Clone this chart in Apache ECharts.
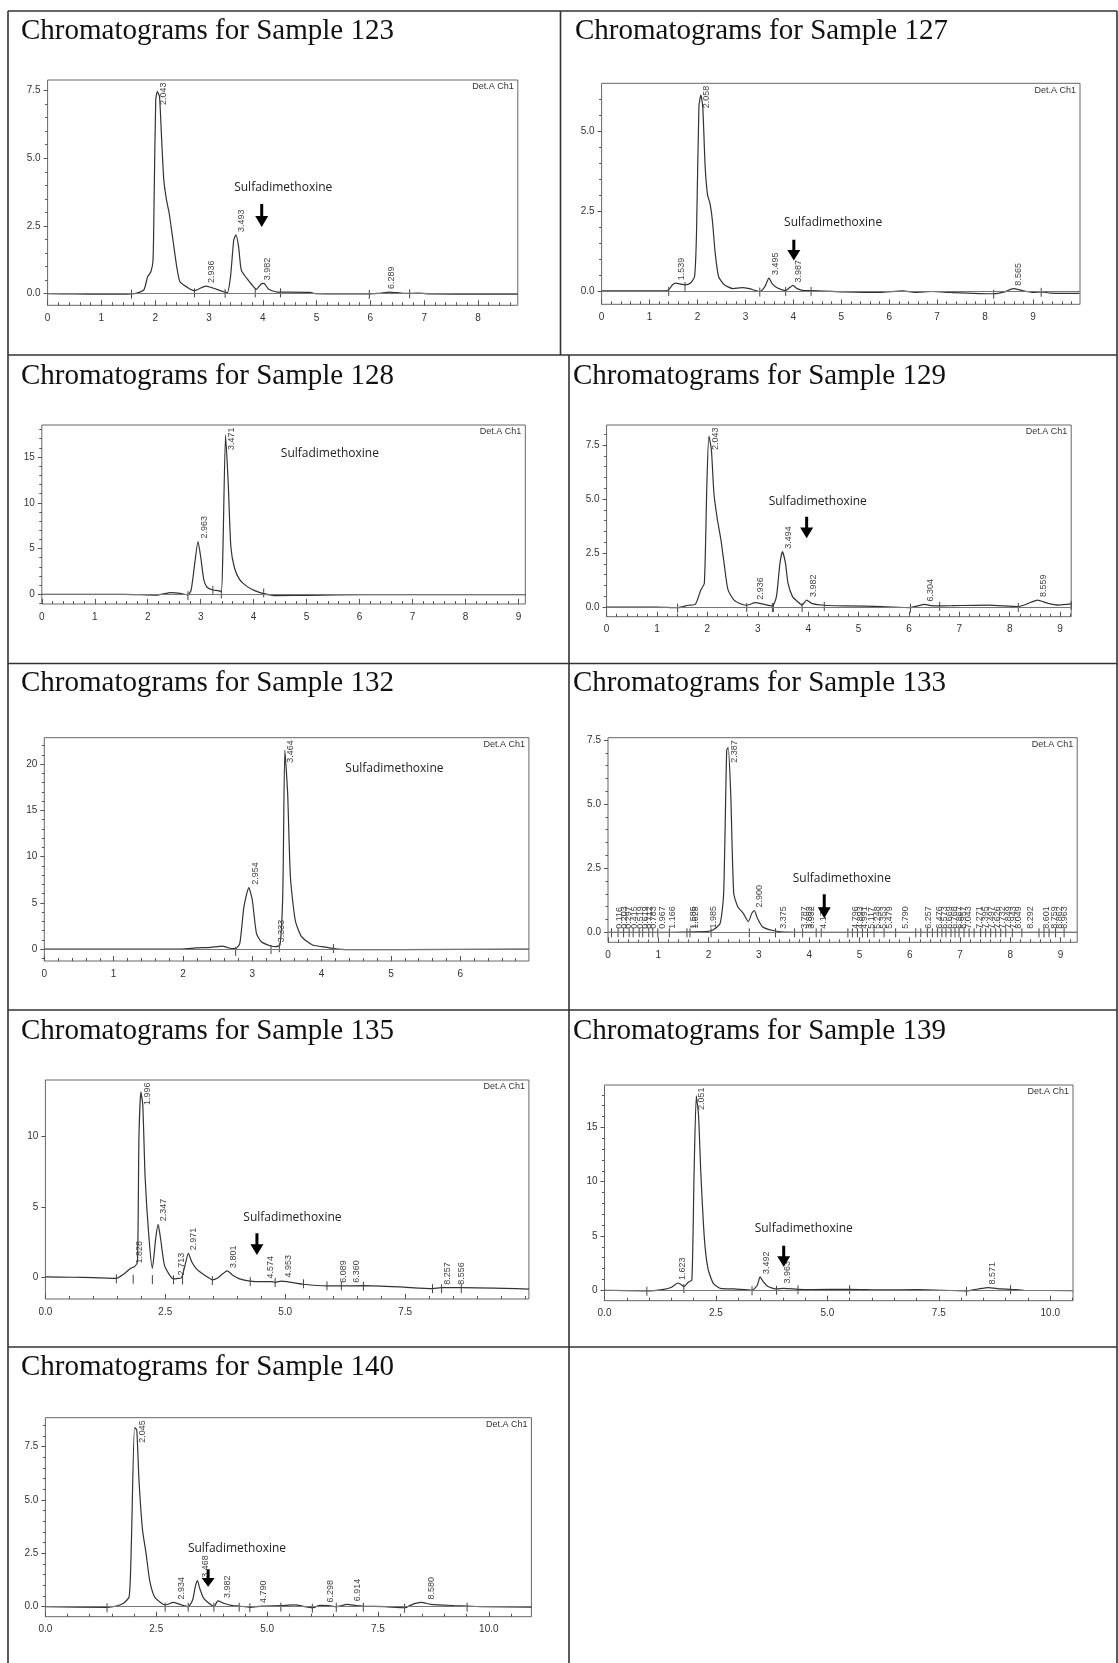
<!DOCTYPE html>
<html><head><meta charset="utf-8">
<script src="https://cdn.jsdelivr.net/npm/echarts@6/dist/echarts.min.js"></script>
<style>html,body{margin:0;padding:0;background:#fff}#c{width:1118px;height:1663px}</style>
</head><body><div id="c"></div>
<script>
// ---------- sample ids ----------
const samples = ['123','127','128','129','132','133','135','139','140'];

// ---------- chromatogram curves [time (min), signal] ----------
const c123 = [[0,0],[0.5,-0.01],[1.0,-0.02],[1.3,-0.02],[1.56,-0.01],[1.66,0.02],[1.79,0.14],[1.86,0.63],[1.92,0.81],[1.96,1.24],[1.98,3.5],[2.01,7.15],[2.04,7.46],[2.08,7.28],[2.12,5.68],[2.16,4.2],[2.21,3.46],[2.26,2.97],[2.33,1.98],[2.40,1.0],[2.46,0.44],[2.60,0.23],[2.73,0.11],[2.87,0.23],[2.95,0.28],[3.07,0.21],[3.27,0.07],[3.34,0.04],[3.40,0.63],[3.46,1.98],[3.50,2.17],[3.55,1.74],[3.60,0.87],[3.70,0.57],[3.80,0.32],[3.88,0.16],[3.97,0.36],[4.02,0.38],[4.11,0.16],[4.27,0.06],[4.47,0.06],[4.88,0.05],[4.98,0],[5.81,-0.01],[6.15,0.01],[6.35,0.06],[6.62,0.01],[6.89,0.02],[7.15,-0.01],[8.0,-0.02],[8.74,-0.02]];
const c127 = [[0,0],[1.0,0],[1.33,0],[1.40,0.03],[1.48,0.19],[1.55,0.24],[1.66,0.21],[1.74,0.19],[1.85,0.24],[1.94,0.45],[1.98,1.8],[2.03,5.76],[2.07,6.12],[2.11,5.76],[2.16,3.89],[2.21,3.0],[2.26,2.74],[2.31,2.22],[2.37,1.18],[2.44,0.45],[2.56,0.19],[2.74,0.07],[2.93,0.1],[3.08,0.07],[3.30,-0.02],[3.41,0.14],[3.49,0.40],[3.56,0.22],[3.67,0.09],[3.84,0.01],[3.93,0.11],[3.99,0.17],[4.08,0.07],[4.23,0.01],[4.37,0.01],[5.05,-0.03],[5.80,-0.05],[6.28,0.0],[6.54,-0.05],[6.91,-0.02],[7.29,-0.05],[8.18,-0.09],[8.41,-0.03],[8.59,0.07],[8.78,0.01],[9.00,-0.05],[9.17,-0.03],[9.37,-0.07],[9.97,-0.08]];
const c128 = [[0,0],[1.55,0],[2.16,-0.1],[2.44,0.18],[2.64,0.07],[2.76,-0.07],[2.82,0.47],[2.88,3.0],[2.95,5.77],[3.00,4.1],[3.06,1.57],[3.12,0.77],[3.23,0.47],[3.33,0.4],[3.39,0.29],[3.42,4.85],[3.47,17.4],[3.52,12.15],[3.57,5.2],[3.64,2.85],[3.74,1.57],[3.88,0.84],[4.02,0.4],[4.19,0.07],[4.43,-0.15],[5.05,-0.11],[6.08,-0.04],[9.13,-0.04]];
const c129 = [[0,0],[1.0,0],[1.41,-0.03],[1.62,0.08],[1.76,0.12],[1.87,0.79],[1.94,1.1],[1.99,5.7],[2.03,7.92],[2.08,7.27],[2.13,5.26],[2.20,4.03],[2.27,3.1],[2.34,1.87],[2.41,0.79],[2.53,0.32],[2.67,0.14],[2.78,0.08],[2.95,0.2],[3.13,0.12],[3.29,0.05],[3.37,0.48],[3.44,2.02],[3.49,2.56],[3.55,2.02],[3.60,1.1],[3.69,0.48],[3.79,0.25],[3.88,0.09],[3.97,0.32],[4.07,0.17],[4.32,0.08],[4.77,0.05],[5.47,0.02],[6.03,-0.03],[6.17,0.05],[6.31,0.12],[6.45,0.06],[6.61,0.05],[6.87,0.06],[7.57,0.09],[8.17,0.02],[8.34,0.14],[8.55,0.32],[8.76,0.17],[8.97,0.09],[9.22,0.14]];
const c132 = [[0,0],[1.98,0],[2.19,0.11],[2.40,0.18],[2.57,0.32],[2.66,0.11],[2.76,0.04],[2.82,0.61],[2.88,4.58],[2.95,6.64],[3.00,5.3],[3.06,1.7],[3.13,0.79],[3.27,0.32],[3.34,0.25],[3.40,0.43],[3.44,6.0],[3.47,21.5],[3.51,16.85],[3.55,7.8],[3.62,3.1],[3.71,1.33],[3.87,0.43],[4.08,0.18],[4.17,0.04],[4.39,-0.07],[5.13,-0.07],[6.99,0]];
const c133 = [[0,0],[1.0,0],[1.95,0.03],[2.09,0.09],[2.23,0.35],[2.30,1.52],[2.36,7.1],[2.39,7.2],[2.44,5.42],[2.50,1.52],[2.58,1.0],[2.69,0.74],[2.79,0.42],[2.86,0.74],[2.91,0.85],[2.97,0.55],[3.07,0.22],[3.28,0.07],[3.49,0.01],[4.5,0],[6.0,0],[9.33,0]];
const c135 = [[0,0],[0.57,-0.02],[1.0,-0.05],[1.48,-0.1],[1.63,0.19],[1.78,0.62],[1.86,0.74],[1.92,1.09],[1.95,9.88],[1.99,13.2],[2.03,12.26],[2.08,7.03],[2.16,2.76],[2.23,0.62],[2.30,2.76],[2.35,3.75],[2.40,2.76],[2.48,0.86],[2.58,0.19],[2.67,-0.14],[2.77,-0.1],[2.84,-0.05],[2.92,0.97],[2.98,1.69],[3.05,1.09],[3.14,0.62],[3.26,0.26],[3.37,0.02],[3.48,-0.21],[3.60,-0.05],[3.71,0.26],[3.79,0.43],[3.90,0.14],[4.05,-0.14],[4.27,-0.29],[4.51,-0.33],[4.70,-0.33],[4.79,-0.38],[4.92,-0.29],[5.04,-0.33],[5.38,-0.52],[5.87,-0.64],[6.17,-0.64],[6.63,-0.62],[7.39,-0.71],[8.07,-0.83],[8.26,-0.76],[8.67,-0.76],[10.08,-0.86]];
const c139 = [[0,0],[0.95,-0.06],[1.33,0.09],[1.49,0.25],[1.65,0.67],[1.73,0.49],[1.78,0.34],[1.88,0.74],[1.96,0.95],[2.01,10.9],[2.06,17.9],[2.11,16.1],[2.16,10.9],[2.24,4.8],[2.32,2.02],[2.44,0.64],[2.60,0.18],[2.91,0.12],[3.31,0],[3.43,0.49],[3.49,1.23],[3.56,0.8],[3.67,0.34],[3.86,0.12],[4.02,0.18],[4.34,0.09],[4.66,0.06],[5.50,0.09],[6.24,0.03],[7.03,0.06],[8.12,-0.06],[8.38,0.12],[8.61,0.25],[8.89,0.12],[9.11,0.09],[9.41,0],[10.51,-0.03]];
const c140 = [[0,0],[1.39,-0.03],[1.60,0.03],[1.76,0.16],[1.89,0.47],[1.94,3.1],[2.01,8.4],[2.06,8.28],[2.11,5.94],[2.19,3.6],[2.27,2.5],[2.35,1.25],[2.46,0.47],[2.62,0.16],[2.70,0.08],[2.89,0.2],[3.07,0.08],[3.22,0],[3.32,0.31],[3.38,0.94],[3.43,1.22],[3.48,0.86],[3.57,0.39],[3.69,0.16],[3.80,0],[3.89,0.27],[4.02,0.16],[4.22,0.05],[4.37,0.03],[4.61,-0.03],[4.88,0.03],[5.31,0.05],[5.61,0.08],[6.02,-0.05],[6.19,0.06],[6.39,0.05],[6.56,0],[6.80,0.11],[7.01,0.05],[7.17,0.03],[7.66,0],[8.10,-0.05],[8.28,0.11],[8.47,0.2],[8.69,0.11],[9.22,0.05],[9.51,0.03],[9.88,0],[10.96,-0.02]];

// ---------- labelled peaks [retention time, apex height] ----------
const p123 = [[2.043,7.46],[2.936,0.28],[3.493,2.17],[3.982,0.38],[6.289,0.06]];
const p127 = [[1.539,0.24],[2.058,6.12],[3.495,0.40],[3.987,0.17],[8.565,0.07]];
const p128 = [[2.963,5.77],[3.471,17.4]];
const p129 = [[2.043,7.92],[2.936,0.2],[3.494,2.56],[3.982,0.32],[6.304,0.12],[8.559,0.32]];
const p132 = [[2.954,6.64],[3.333,0.4],[3.464,21.5]];
const p133 = [[0.116,0.02],[0.203,0.02],[0.297,0.02],[0.415,0.02],[0.519,0.02],[0.619,0.02],[0.712,0.02],[0.783,0.02],[0.967,0.02],[1.166,0.02],[1.585,0.02],[1.628,0.02],[1.985,0.03],[2.387,7.2],[2.900,0.85],[3.375,0.02],[3.787,0.02],[3.882,0.02],[3.932,0.02],[4.176,0.02],[4.796,0.02],[4.893,0.02],[4.991,0.02],[5.117,0.02],[5.248,0.02],[5.353,0.02],[5.479,0.02],[5.790,0.02],[6.257,0.02],[6.476,0.02],[6.573,0.02],[6.669,0.02],[6.768,0.02],[6.867,0.02],[6.957,0.02],[7.043,0.02],[7.271,0.02],[7.395,0.02],[7.497,0.02],[7.626,0.02],[7.732,0.02],[7.849,0.02],[7.943,0.02],[8.049,0.02],[8.292,0.02],[8.601,0.02],[8.759,0.02],[8.862,0.02],[8.963,0.02]];
const p135 = [[1.828,0.75],[1.996,13.2],[2.347,3.75],[2.713,-0.1],[2.971,1.69],[3.801,0.43],[4.574,-0.33],[4.953,-0.25],[6.089,-0.62],[6.360,-0.62],[8.257,-0.77],[8.556,-0.77]];
const p139 = [[1.623,0.67],[2.051,17.9],[3.492,1.23],[3.963,0.35],[8.571,0.25]];
const p140 = [[2.045,8.4],[2.934,0.2],[3.468,1.22],[3.982,0.27],[4.790,0.03],[6.298,0.06],[6.914,0.11],[8.580,0.2]];

// ---------- integration event marks [time, signal] ----------
const m123 = [[1.56,0],[2.73,0.05],[3.30,0.03],[3.86,0.05],[4.33,0.05],[5.98,-0.01],[6.73,0.01]];
const m127 = [[1.40,0],[1.74,0.15],[3.30,-0.02],[3.84,0],[4.37,0],[8.18,-0.09],[9.17,-0.03]];
const m128 = [[2.76,-0.1],[3.23,0.5],[3.39,0.1],[4.19,0.2]];
const m129 = [[1.41,-0.03],[2.78,0],[3.29,0],[3.31,0],[3.88,0],[4.32,0.05],[6.03,-0.03],[6.61,0.05],[8.17,0],[9.22,0.1]];
const m132 = [[2.76,-0.2],[3.27,0],[3.39,0.2],[4.17,0.1]];
const m133 = [[0.07,0],[0.20,0],[0.31,0],[0.42,0],[0.50,0],[0.62,0],[0.69,0],[0.81,0],[0.89,0],[0.99,0],[1.22,0],[1.57,0],[1.63,0],[2.05,0],[2.81,0],[3.33,0],[3.71,0],[3.87,0],[4.14,0],[4.24,0],[4.77,0],[4.86,0],[4.96,0],[5.06,0],[5.16,0],[5.29,0],[5.49,0],[5.72,0],[6.12,0],[6.22,0],[6.35,0],[6.45,0],[6.55,0],[6.64,0],[6.72,0],[6.82,0],[6.90,0],[6.98,0],[7.08,0],[7.18,0],[7.28,0],[7.41,0],[7.51,0],[7.61,0],[7.71,0],[7.81,0],[7.91,0],[8.04,0],[8.23,0],[8.57,0],[8.67,0],[8.77,0],[8.90,0],[9.07,0]];
const m135 = [[1.48,-0.1],[1.83,-0.12],[2.23,-0.15],[2.67,-0.17],[2.86,-0.18],[3.48,-0.22],[4.27,-0.3],[4.79,-0.36],[5.38,-0.45],[5.87,-0.6],[6.17,-0.6],[6.63,-0.62],[8.07,-0.8],[8.26,-0.8],[8.67,-0.8]];
const m139 = [[0.95,-0.05],[1.78,0.2],[3.31,0],[3.86,0.05],[4.34,0.1],[5.50,0.1],[8.12,-0.05],[9.11,0.1]];
const m140 = [[1.39,-0.03],[2.70,0],[3.22,0],[3.80,0],[4.37,0],[4.61,-0.03],[5.31,0],[6.02,-0.05],[6.56,0],[7.17,0],[8.10,-0.05],[9.51,0]];

// ---------- tick label values ----------
const xT123 = [0,1,2,3,4,5,6,7,8],       yT123 = [0,2.5,5,7.5];
const xT127 = [0,1,2,3,4,5,6,7,8,9],     yT127 = [0,2.5,5];
const xT128 = [0,1,2,3,4,5,6,7,8,9],     yT128 = [0,5,10,15];
const xT129 = [0,1,2,3,4,5,6,7,8,9],     yT129 = [0,2.5,5,7.5];
const xT132 = [0,1,2,3,4,5,6],           yT132 = [0,5,10,15,20];
const xT133 = [0,1,2,3,4,5,6,7,8,9],     yT133 = [0,2.5,5,7.5];
const xT135 = [0,2.5,5,7.5],             yT135 = [0,5,10];
const xT139 = [0,2.5,5,7.5,10],          yT139 = [0,5,10,15];
const xT140 = [0,2.5,5,7.5,10],          yT140 = [0,2.5,5,7.5];

// ---------- layout (positions / styles only) ----------
const layout = [
 {curve:c123,peaks:p123,marks:m123,xt:xT123,yt:yT123, title:[21,17], grid:[47.6,80,470.2,225.3], xr:[0,8.74], yr:[-0.43,7.89], xMinor:0.2,yMinor:0.5,xDec:0,yDec:1,zero:true, note:[4.38,3.9], arrow:[3.98,3.31,2.46]},
 {curve:c127,peaks:p127,marks:m127,xt:xT127,yt:yT127, title:[575,17], grid:[601.6,83.3,478.4,221], xr:[0,9.98], yr:[-0.42,6.49], xMinor:0.2,yMinor:0.5,xDec:0,yDec:1,zero:true, note:[4.83,2.15], arrow:[4.01,1.6,0.95]},
 {curve:c128,peaks:p128,marks:m128,xt:xT128,yt:yT128, title:[21,361.5], grid:[41.8,425,483.5,179], xr:[0,9.13], yr:[-1.06,18.5], xMinor:0.2,yMinor:1,xDec:0,yDec:0,zero:true, note:[5.44,15.4], arrow:null},
 {curve:c129,peaks:p129,marks:m129,xt:xT129,yt:yT129, title:[573,361.5], grid:[606.6,425,464.6,191.7], xr:[0,9.22], yr:[-0.45,8.43], xMinor:0.2,yMinor:0.5,xDec:0,yDec:1,zero:true, note:[4.19,4.9], arrow:[3.97,4.18,3.18]},
 {curve:c132,peaks:p132,marks:m132,xt:xT132,yt:yT132, title:[21,668.5], grid:[44.3,737.7,484.6,223.3], xr:[0,6.99], yr:[-1.3,22.87], xMinor:0.2,yMinor:1,xDec:0,yDec:0,zero:true, note:[5.05,19.55], arrow:null},
 {curve:c133,peaks:p133,marks:m133,xt:xT133,yt:yT133, title:[573,669], grid:[608,737.7,469.2,204.6], xr:[0,9.33], yr:[-0.39,7.59], xMinor:0.2,yMinor:0.5,xDec:0,yDec:1,zero:true, note:[4.65,2.1], arrow:[4.3,1.48,0.55]},
 {curve:c135,peaks:p135,marks:m135,xt:xT135,yt:yT135, title:[21,1016.5], grid:[45.4,1080,483.5,219], xr:[0,10.08], yr:[-1.57,14.04], xMinor:0.5,yMinor:null,xDec:1,yDec:0,zero:false, note:[5.15,4.23], arrow:[4.41,3.11,1.57]},
 {curve:c139,peaks:p139,marks:m139,xt:xT139,yt:yT139, title:[573,1016.5], grid:[604.5,1085,468.5,215.7], xr:[0,10.51], yr:[-0.96,18.9], xMinor:0.5,yMinor:1,xDec:1,yDec:0,zero:true, note:[4.47,5.64], arrow:[4.02,4.1,2.17]},
 {curve:c140,peaks:p140,marks:m140,xt:xT140,yt:yT140, title:[21,1353], grid:[45.4,1417.7,486,199], xr:[0,10.96], yr:[-0.47,8.86], xMinor:0.5,yMinor:0.5,xDec:1,yDec:1,zero:true, note:[4.32,2.74], arrow:[3.67,1.75,0.94]}
];

const SANS = '"Liberation Sans", Arial, sans-serif';
const LINE = '#333';

function minorTicks(min, max, step){
  const out = [];
  if (!step) return out;
  for (let k = Math.ceil(min/step); k*step <= max + 1e-9; k++) out.push(Math.round(k*step*1000)/1000);
  return out;
}

const grids = [], xAxes = [], yAxes = [], series = [], graphics = [];

layout.forEach((L, i) => {
  const [gl, gt, gw, gh] = L.grid;
  grids.push({left: gl, top: gt, width: gw, height: gh, show: true, borderColor: '#666', borderWidth: 1, backgroundColor: 'transparent'});
  xAxes.push({type:'value', gridIndex:i, position:'bottom', min:L.xr[0], max:L.xr[1],
    axisLine:{show:false, onZero:false}, splitLine:{show:false},
    axisTick:{show:true, inside:true, length:5, customValues:L.xt, lineStyle:{color:'#555'}},
    axisLabel:{show:true, customValues:L.xt, margin:8, fontSize:10, fontFamily:SANS, color:'#333',
      formatter: v => Number(v).toFixed(L.xDec)}});
  xAxes.push({type:'value', gridIndex:i, position:'bottom', min:L.xr[0], max:L.xr[1],
    axisLine:{show:false, onZero:false}, splitLine:{show:false}, axisLabel:{show:false},
    axisTick:{show:true, inside:true, length:3, customValues:minorTicks(L.xr[0], L.xr[1], L.xMinor), lineStyle:{color:'#555'}}});
  yAxes.push({type:'value', gridIndex:i, position:'left', min:L.yr[0], max:L.yr[1],
    axisLine:{show:false, onZero:false}, splitLine:{show:false},
    axisTick:{show:true, inside:false, length:4, customValues:L.yt, lineStyle:{color:'#555'}},
    axisLabel:{show:true, customValues:L.yt, margin:7, fontSize:10, fontFamily:SANS, color:'#333',
      formatter: v => Number(v).toFixed(L.yDec)}});
  yAxes.push({type:'value', gridIndex:i, position:'left', min:L.yr[0], max:L.yr[1],
    axisLine:{show:false, onZero:false}, splitLine:{show:false}, axisLabel:{show:false},
    axisTick:{show: !!L.yMinor, inside:false, length:2.5, customValues:minorTicks(L.yr[0], L.yr[1], L.yMinor), lineStyle:{color:'#555'}}});

  const xi = 2*i, yi = 2*i;
  const s = {type:'line', xAxisIndex:xi, yAxisIndex:yi, data:L.curve, showSymbol:false, smooth:0.2,
    lineStyle:{color:LINE, width:1.2}, z:3};
  if (L.zero) s.markLine = {silent:true, symbol:['none','none'], label:{show:false},
    lineStyle:{color:'#777', width:1, type:'solid'}, data:[{yAxis:0}]};
  series.push(s);
  series.push({type:'custom', xAxisIndex:xi, yAxisIndex:yi, data:L.marks, z:4,
    renderItem(params, api){
      const p = api.coord([api.value(0), api.value(1)]);
      return {type:'line', shape:{x1:p[0], y1:p[1]-4, x2:p[0], y2:p[1]+5}, style:{stroke:'#444', lineWidth:1}};
    }});
  series.push({type:'custom', xAxisIndex:xi, yAxisIndex:yi, data:L.peaks, z:5, clip:false,
    renderItem(params, api){
      const rt = api.value(0);
      const p = api.coord([rt, api.value(1)]);
      const cs = params.coordSys;
      const len = 22;
      let ay = p[1] - 3;
      if (ay - len < cs.y + 3) ay = cs.y + 3 + len;
      return {type:'text', x:p[0]+6, y:ay, rotation:Math.PI/2,
        style:{text: rt.toFixed(3), font:'9px ' + SANS, fill:'#444', align:'left', verticalAlign:'middle'}};
    }});
  series.push({type:'custom', xAxisIndex:xi, yAxisIndex:yi, data:[L.note], z:6, clip:false,
    renderItem(params, api){
      const p = api.coord([api.value(0), api.value(1)]);
      return {type:'text', x:p[0], y:p[1],
        style:{text:'Sulfadimethoxine', font:'12px "Open Sans", "Noto Sans", sans-serif', fill:'#222', align:'center', verticalAlign:'middle'}};
    }});
  if (L.arrow) series.push({type:'custom', xAxisIndex:xi, yAxisIndex:yi, data:[L.arrow], z:6, clip:false,
    renderItem(params, api){
      const x = api.value(0);
      const t = api.coord([x, api.value(1)]), b = api.coord([x, api.value(2)]);
      const cx = t[0], ty = t[1], by = b[1], sw = 1.5, hw = 6.5, hh = Math.min(11, (by-ty)*0.5);
      return {type:'polygon', shape:{points:[[cx-sw,ty],[cx+sw,ty],[cx+sw,by-hh],[cx+hw,by-hh],[cx,by],[cx-hw,by-hh],[cx-sw,by-hh]]},
        style:{fill:'#000'}};
    }});

  graphics.push({type:'text', x:L.title[0], y:L.title[1], z:10,
    style:{text:'Chromatograms for Sample ' + samples[i], font:'29px "Liberation Serif", "Times New Roman", serif', fill:'#111', align:'left', verticalAlign:'top'}});
  graphics.push({type:'text', x:gl+gw-4, y:gt+7, z:10,
    style:{text:'Det.A Ch1', font:'9px ' + SANS, fill:'#333', align:'right', verticalAlign:'middle'}});
});

const rules = [[8,11,1117,11],[8,11,8,1663],[1117,11,1117,1663],[8,355,1117,355],[8,663.5,1117,663.5],[8,1010,1117,1010],[8,1347,1117,1347],[560.5,11,560.5,355],[569,355,569,1663]];
rules.forEach(r => graphics.push({type:'line', z:1, shape:{x1:r[0], y1:r[1], x2:r[2], y2:r[3]}, style:{stroke:'#333', lineWidth:1.6}}));

const chart = echarts.init(document.getElementById('c'), null, {renderer:'canvas'});
chart.setOption({
  animation:false,
  backgroundColor:'#fff',
  textStyle:{fontFamily:SANS},
  grid:grids, xAxis:xAxes, yAxis:yAxes, series:series, graphic:graphics
});
</script></body></html>
